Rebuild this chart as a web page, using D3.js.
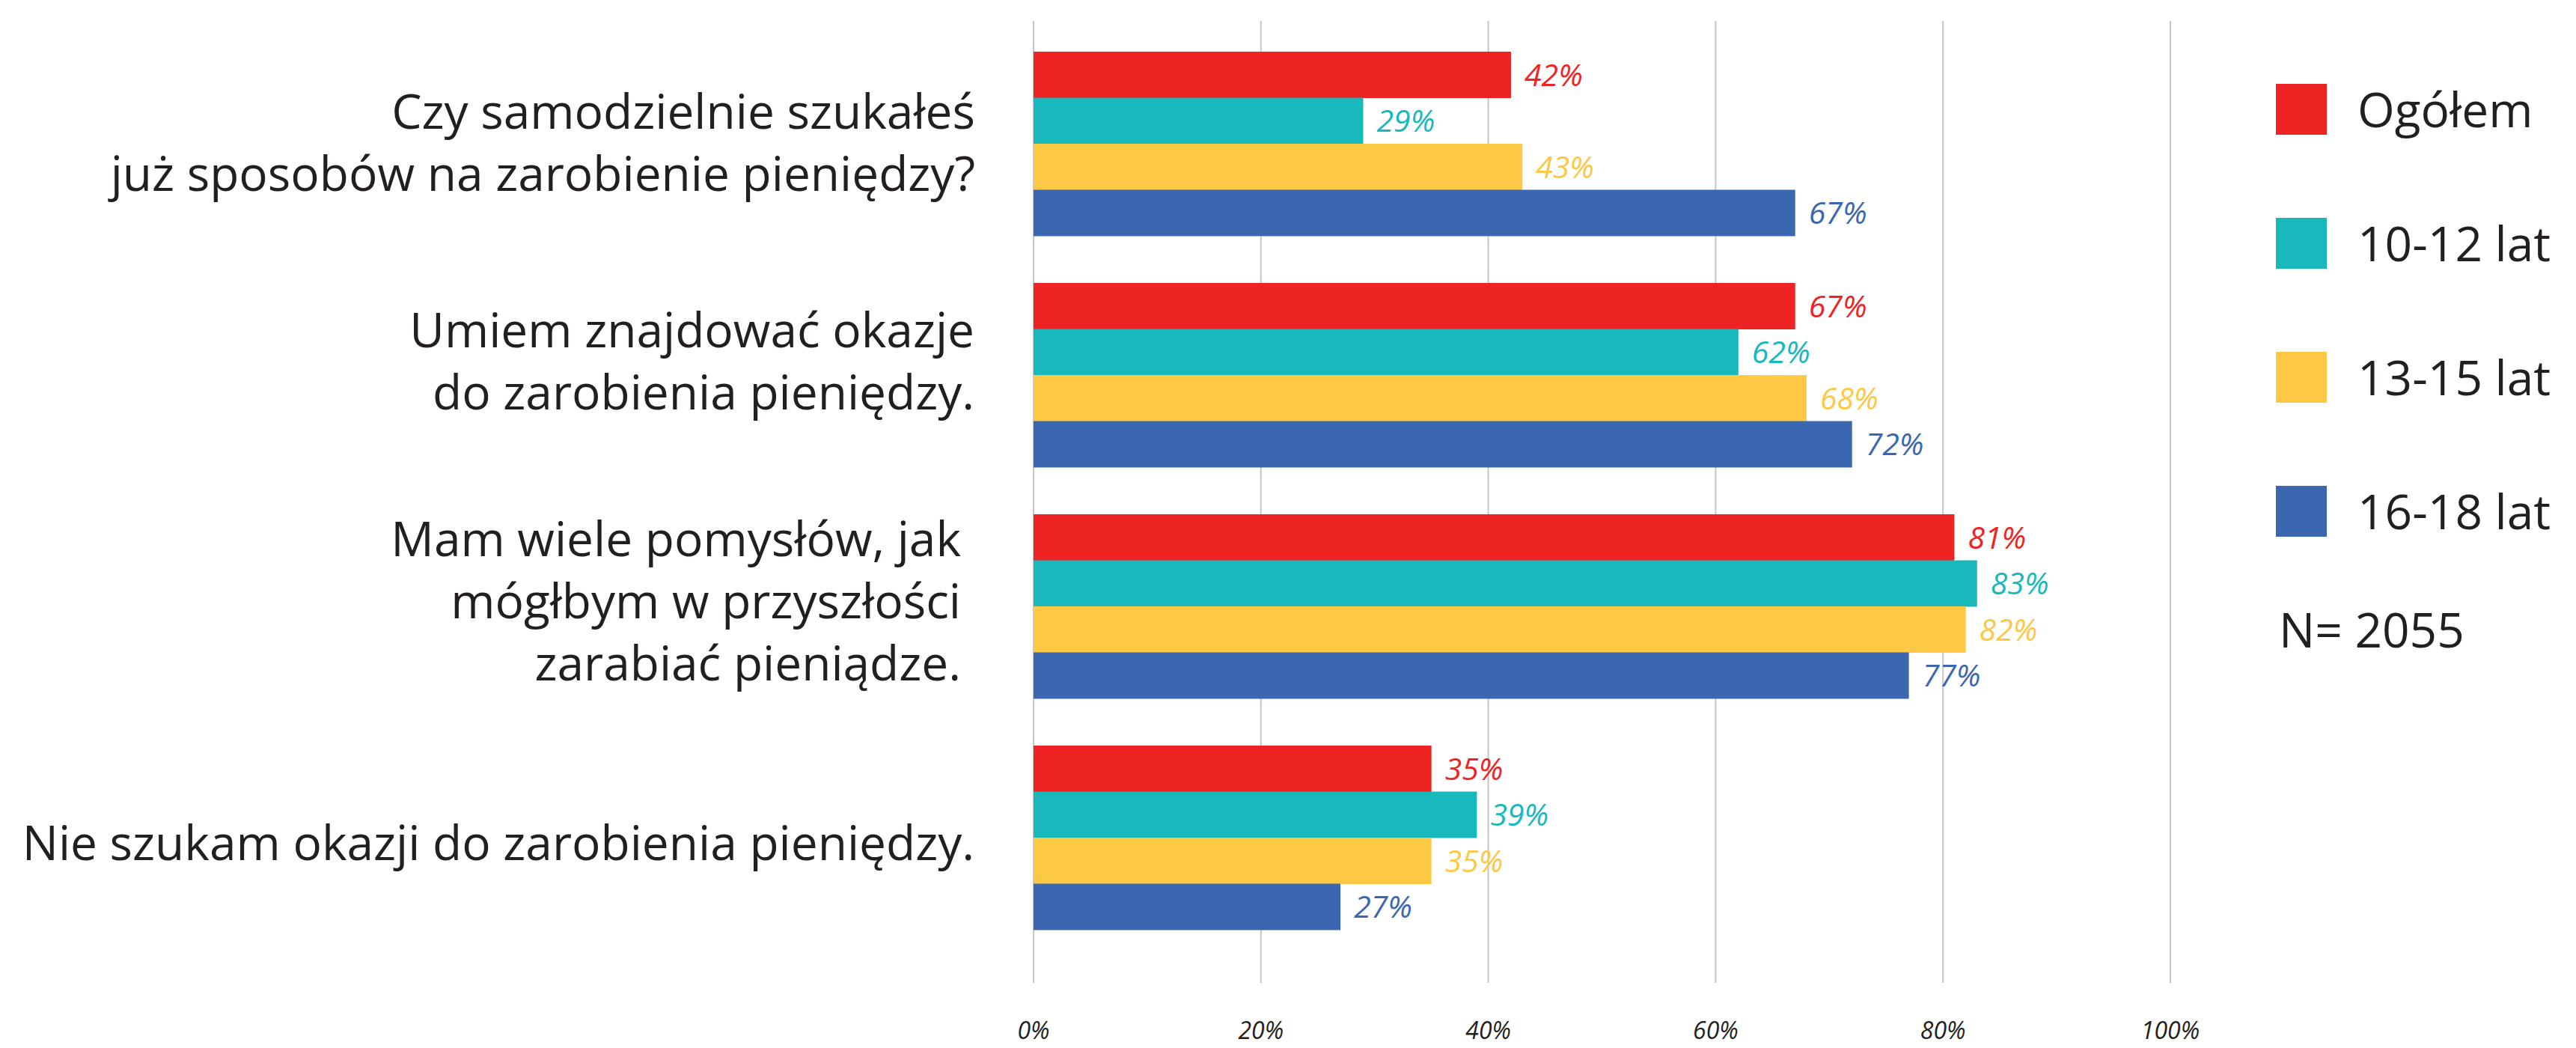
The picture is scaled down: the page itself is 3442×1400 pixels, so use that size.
<!DOCTYPE html>
<html>
<head>
<meta charset="utf-8">
<script src="https://cdn.jsdelivr.net/npm/d3@7"></script>
<style>
  body { margin: 0; background: #fff; }
  text { font-family: "Open Sans", "Noto Sans", sans-serif; }
</style>
</head>
<body>
<div id="chart"></div>
<script>
// Data
const categories = [
  ["Czy samodzielnie szukałeś", "już sposobów na zarobienie pieniędzy?"],
  ["Umiem znajdować okazje", "do zarobienia pieniędzy."],
  ["Mam wiele pomysłów, jak", "mógłbym w przyszłości", "zarabiać pieniądze."],
  ["Nie szukam okazji do zarobienia pieniędzy."],
];
const seriesNames = ["Ogółem", "10-12 lat", "13-15 lat", "16-18 lat"];
const ogolem = [42, 67, 81, 35];
const lat10to12 = [29, 62, 83, 39];
const lat13to15 = [43, 68, 82, 35];
const lat16to18 = [67, 72, 77, 27];
const tickValues = [0, 20, 40, 60, 80, 100];
const colors = ["#ee2424", "#18b8bd", "#fdc844", "#3a67b0"];
const sampleNote = "N= 2055";

const allSeries = [ogolem, lat10to12, lat13to15, lat16to18];

const width = 3442;
const height = 1400;
const textColor = "#231f20";

// small per-label nudges, the original text boxes are not quite aligned
const labelRight = [1303, 1302, 1284, 1302];
const labelShift = [0, -17, -5, 9];

const svg = d3
  .select("#chart")
  .append("svg")
  .attr("width", width)
  .attr("height", height);

// Scales
const x = d3.scaleLinear().domain([0, 100]).range([1381, 2900]);

const y0 = d3
  .scaleBand()
  .domain(d3.range(categories.length))
  .range([37.5, 1273.5])
  .paddingInner(0.2039)
  .paddingOuter(0.102);

const y1 = d3
  .scaleBand()
  .domain(seriesNames)
  .range([0, y0.bandwidth()])
  .padding(0);

// Gridlines
svg
  .append("g")
  .selectAll("line")
  .data(tickValues)
  .enter()
  .append("line")
  .attr("x1", (d) => x(d))
  .attr("x2", (d) => x(d))
  .attr("y1", 28)
  .attr("y2", 1313)
  .attr("stroke", "#c6c6c6")
  .attr("stroke-width", 2);

// Tick labels
svg
  .append("g")
  .selectAll("text")
  .data(tickValues)
  .enter()
  .append("text")
  .attr("x", (d) => x(d))
  .attr("y", 1388)
  .attr("text-anchor", "middle")
  .attr("font-size", "32px")
  .attr("font-style", "italic")
  .attr("fill", textColor)
  .text((d) => d + "%");

// Bars
const groups = svg
  .append("g")
  .selectAll("g")
  .data(categories.map((c, i) => i))
  .enter()
  .append("g")
  .attr("transform", (i) => `translate(0,${y0(i)})`);

const cells = groups
  .selectAll("g")
  .data((i) =>
    seriesNames.map((name, s) => ({ name, s, value: allSeries[s][i] }))
  )
  .enter()
  .append("g");

cells
  .append("rect")
  .attr("x", x(0))
  .attr("y", (d) => y1(d.name))
  .attr("width", (d) => x(d.value) - x(0))
  .attr("height", y1.bandwidth() + 0.5)
  .attr("fill", (d) => colors[d.s]);

cells
  .append("text")
  .attr("x", (d) => x(d.value) + 18)
  .attr("y", (d) => y1(d.name) + y1.bandwidth() / 2 + 15)
  .attr("font-size", "41px")
  .attr("font-style", "italic")
  .attr("fill", (d) => colors[d.s])
  .text((d) => d.value + "%");

// Category labels
const lineHeight = 83;
svg
  .append("g")
  .selectAll("text")
  .data(categories)
  .enter()
  .append("text")
  .attr("text-anchor", "end")
  .attr("font-size", "64px")
  .attr("fill", textColor)
  .each(function (lines, i) {
    const center = y0(i) + y0.bandwidth() / 2 + labelShift[i];
    const t = d3.select(this);
    lines.forEach((line, k) => {
      t.append("tspan")
        .attr("x", labelRight[i])
        .attr("y", center + (k - (lines.length - 1) / 2) * lineHeight + 21)
        .text(line);
    });
  });

// Legend
const legend = svg
  .append("g")
  .selectAll("g")
  .data(seriesNames)
  .enter()
  .append("g")
  .attr("transform", (d, i) => `translate(3041,${112 + i * 179})`);

legend
  .append("rect")
  .attr("width", 68)
  .attr("height", 68)
  .attr("fill", (d, i) => colors[i]);

legend
  .append("text")
  .attr("x", 109)
  .attr("y", 58)
  .attr("font-size", "64px")
  .attr("fill", textColor)
  .text((d) => d);

svg
  .append("text")
  .attr("x", 3045)
  .attr("y", 865)
  .attr("font-size", "64px")
  .attr("fill", textColor)
  .text(sampleNote);
</script>
</body>
</html>
